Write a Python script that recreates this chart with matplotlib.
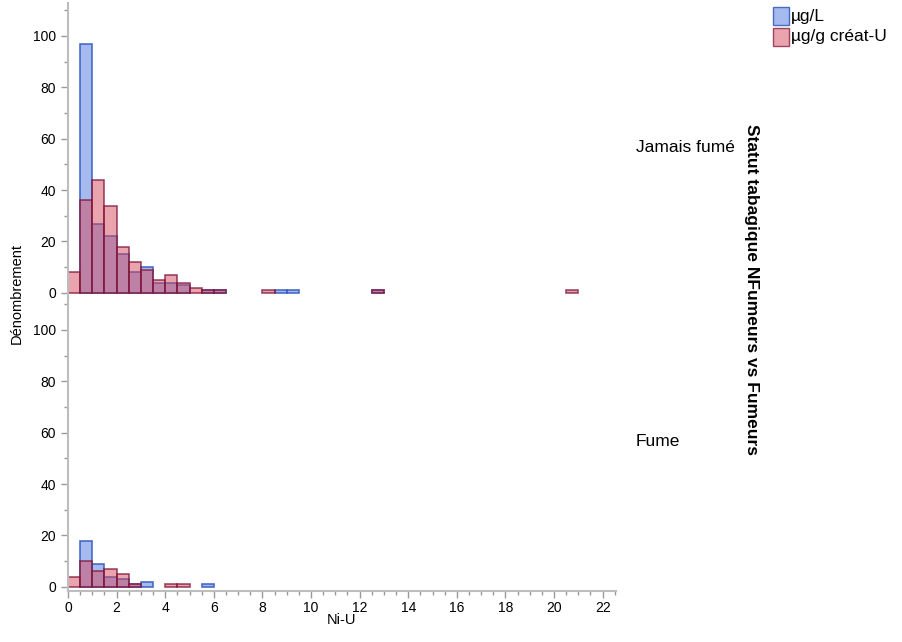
import numpy as np
import matplotlib.pyplot as plt
from matplotlib.patches import Rectangle
from matplotlib.ticker import MultipleLocator

plt.rcParams['font.family'] = ['Liberation Sans', 'DejaVu Sans']

# histogram bins: width 0.5 starting at 0
bin_width = 0.5
# counts per bin (bin i = [i*0.5, (i+1)*0.5))
never_ugl = [0, 97, 27, 22, 15, 8, 10, 4, 4, 3, 0, 1, 1, 0, 0, 0, 0, 1, 1,
             0, 0, 0, 0, 0, 0, 1]
never_creat = [8, 36, 44, 34, 18, 12, 9, 5, 7, 4, 2, 1, 1, 0, 0, 0, 1, 0, 0,
               0, 0, 0, 0, 0, 0, 1, 0, 0, 0, 0, 0, 0, 0, 0, 0, 0, 0, 0, 0,
               0, 0, 1]
smoke_ugl = [0, 18, 9, 4, 3, 1, 2, 0, 0, 0, 0, 1]
smoke_creat = [4, 10, 6, 7, 5, 1, 0, 0, 1, 1]

groups = ["Jamais fumé", "Fume"]
series_names = ["µg/L", "µg/g créat-U"]

blue_face = (0.36, 0.51, 0.88, 0.55)
blue_edge = (0.22, 0.37, 0.75, 0.9)
red_face = (0.84, 0.29, 0.37, 0.5)
red_edge = (0.50, 0.08, 0.22, 0.75)

W, H = 903, 642
fig = plt.figure(figsize=(W / 100, H / 100), dpi=100)


def px(x, y):
    return x / W, 1 - y / H


left, right = 68, 616
ax_top = fig.add_axes([left / W, 1 - 297 / H, (right - left) / W, 294 / H])
ax_bot = fig.add_axes([left / W, 1 - 591 / H, (right - left) / W, 294 / H])

data = [(never_ugl, never_creat), (smoke_ugl, smoke_creat)]
for ax, (ugl, creat) in zip([ax_top, ax_bot], data):
    for counts, fc, ec in [(ugl, blue_face, blue_edge), (creat, red_face, red_edge)]:
        counts = np.array(counts)
        starts = np.arange(len(counts)) * bin_width
        keep = counts > 0
        ax.bar(starts[keep], counts[keep], width=bin_width, align='edge',
               color=fc, edgecolor=ec, linewidth=1.2)
    ax.set_xlim(0, 22.55)
    ax.set_ylim(-1.6, 112.8)
    ax.yaxis.set_major_locator(MultipleLocator(20))
    ax.yaxis.set_minor_locator(MultipleLocator(10))
    ax.xaxis.set_major_locator(MultipleLocator(2))
    ax.xaxis.set_minor_locator(MultipleLocator(0.5))
    for s in ['top', 'right']:
        ax.spines[s].set_visible(False)
    ax.spines['left'].set_color('#bdbdbd')
    ax.spines['left'].set_linewidth(1.5)
    ax.spines['bottom'].set_color('#bdbdbd')
    ax.spines['bottom'].set_linewidth(1.5)
    ax.tick_params(axis='both', which='major', length=5, color='#999999',
                   labelsize=10, width=1)
    ax.tick_params(axis='x', which='major', pad=2)
    ax.tick_params(axis='both', which='minor', length=3, color='#999999',
                   width=1)
    ax.patch.set_alpha(0)

ax_top.spines['bottom'].set_visible(False)
ax_top.tick_params(axis='x', which='both', bottom=False, labelbottom=False)

ax_bot.set_xlabel("Ni-U", fontsize=10.5, labelpad=-1)
fig.text(*px(17, 294), "Dénombrement", rotation=90, fontsize=10.5,
         ha='center', va='center')

fig.text(*px(636, 148), groups[0], fontsize=12.5, ha='left', va='center')
fig.text(*px(636, 441), groups[1], fontsize=12.5, ha='left', va='center')
fig.text(*px(752, 290), "Statut tabagique NFumeurs vs Fumeurs",
         rotation=-90, fontsize=12.5, fontweight='bold', ha='center',
         va='center')

# legend
for i, (fc, ec, name) in enumerate([(blue_face, blue_edge, series_names[0]),
                                    (red_face, red_edge, series_names[1])]):
    y0 = 7 + i * 21
    x0, y1 = px(773, y0 + 18)
    fig.patches.append(Rectangle((x0, y1), 16 / W, 18 / H, transform=fig.transFigure,
                                 facecolor=fc, edgecolor=ec, linewidth=1))
    fig.text(*px(791, y0 + 9), name, fontsize=12.5, ha='left', va='center')

fig.savefig("out.png", dpi=100)
